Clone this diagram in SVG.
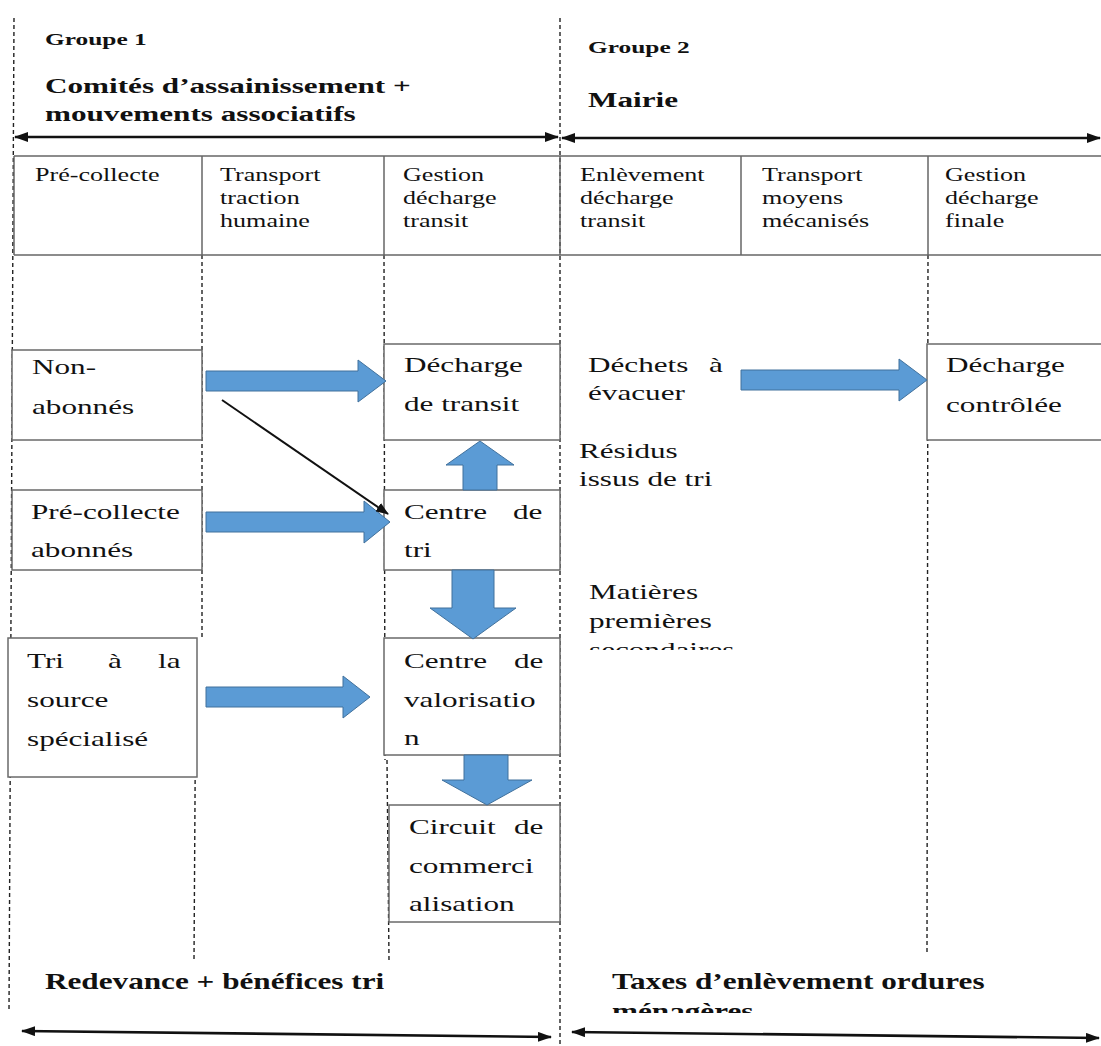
<svg xmlns="http://www.w3.org/2000/svg" width="1101" height="1046" viewBox="0 0 1101 1046">
  <style>
    text { font-family: "Liberation Serif", "Times New Roman", serif; fill: #111; }
    .hd { font-size: 18px; }
    .bx { font-size: 21.5px; }
    .bd { font-size: 21.5px; font-weight: bold; }
    .bs { font-size: 17.5px; font-weight: bold; }
    .bb { font-size: 24px; font-weight: bold; }
    .dash { stroke: #222; stroke-width: 1.4; stroke-dasharray: 4 3; fill: none; }
    .grid { stroke: #666; stroke-width: 1.5; fill: none; }
    .box { stroke: #6a6a6a; stroke-width: 1.5; fill: #fff; }
    .blk { fill: #5b9bd5; stroke: #41719c; stroke-width: 1; }
    .span { stroke: #111; stroke-width: 2.6; fill: none; marker-start: url(#tip); marker-end: url(#tip); }
  </style>
  <defs>
    <marker id="tip" markerUnits="userSpaceOnUse" markerWidth="14" markerHeight="10" refX="13" refY="5" orient="auto-start-reverse">
      <path d="M0,0 L14,5 L0,10 Z" fill="#111"/>
    </marker>
    <marker id="thin" markerUnits="userSpaceOnUse" markerWidth="13" markerHeight="10" refX="12" refY="5" orient="auto">
      <path d="M0,0 L13,5 L0,10 Z" fill="#111"/>
    </marker>
    <clipPath id="cutMat"><rect x="570" y="560" width="200" height="90"/></clipPath>
    <clipPath id="cutMen"><rect x="600" y="940" width="450" height="73"/></clipPath>
  </defs>

  <rect width="1101" height="1046" fill="#fff"/>

  <!-- column guides -->
  <g id="guides">
    <line class="dash" x1="14" y1="18" x2="9" y2="1012"/>
    <line class="dash" x1="560" y1="18" x2="560" y2="1046"/>
    <line class="dash" x1="202" y1="255" x2="202" y2="640"/>
    <line class="dash" x1="196" y1="640" x2="194" y2="960"/>
    <line class="dash" x1="384" y1="255" x2="385" y2="760"/>
    <line class="dash" x1="387" y1="760" x2="389" y2="960"/>
    <line class="dash" x1="928" y1="255" x2="927" y2="952"/>
  </g>

  <!-- group headers -->
  <g id="group1">
    <text class="bs" transform="translate(45 45) scale(1.45 1)">Groupe 1</text>
    <text class="bd" transform="translate(45 93) scale(1.45 1)">Comités d’assainissement +</text>
    <text class="bd" transform="translate(45 121) scale(1.45 1)">mouvements associatifs</text>
  </g>
  <g id="group2">
    <text class="bs" transform="translate(588 53) scale(1.45 1)">Groupe 2</text>
    <text class="bd" transform="translate(588 107) scale(1.45 1)">Mairie</text>
  </g>

  <!-- stage table -->
  <g id="stages">
    <line class="grid" x1="14" y1="156" x2="1101" y2="156"/>
    <line class="grid" x1="14" y1="255" x2="1101" y2="255"/>
    <line class="grid" x1="14" y1="156" x2="14" y2="255"/>
    <line class="grid" x1="202" y1="156" x2="202" y2="255"/>
    <line class="grid" x1="384" y1="156" x2="384" y2="255"/>
    <line class="grid" x1="560" y1="156" x2="560" y2="255"/>
    <line class="grid" x1="741" y1="156" x2="741" y2="255"/>
    <line class="grid" x1="928" y1="156" x2="928" y2="255"/>
    <text class="hd" transform="translate(35 181) scale(1.45 1)">Pré-collecte</text>
    <text class="hd" transform="translate(220 181) scale(1.45 1)">Transport</text>
    <text class="hd" transform="translate(220 204) scale(1.45 1)">traction</text>
    <text class="hd" transform="translate(220 227) scale(1.45 1)">humaine</text>
    <text class="hd" transform="translate(403 181) scale(1.45 1)">Gestion</text>
    <text class="hd" transform="translate(403 204) scale(1.45 1)">décharge</text>
    <text class="hd" transform="translate(403 227) scale(1.45 1)">transit</text>
    <text class="hd" transform="translate(580 181) scale(1.45 1)">Enlèvement</text>
    <text class="hd" transform="translate(580 204) scale(1.45 1)">décharge</text>
    <text class="hd" transform="translate(580 227) scale(1.45 1)">transit</text>
    <text class="hd" transform="translate(762 181) scale(1.45 1)">Transport</text>
    <text class="hd" transform="translate(762 204) scale(1.45 1)">moyens</text>
    <text class="hd" transform="translate(762 227) scale(1.45 1)">mécanisés</text>
    <text class="hd" transform="translate(945 181) scale(1.45 1)">Gestion</text>
    <text class="hd" transform="translate(945 204) scale(1.45 1)">décharge</text>
    <text class="hd" transform="translate(945 227) scale(1.45 1)">finale</text>
  </g>

  <!-- nodes -->
  <g id="non-abonnes">
    <rect class="box" x="12" y="350" width="190" height="90"/>
    <text class="bx" transform="translate(32 374) scale(1.45 1)">Non-</text>
    <text class="bx" transform="translate(32 414) scale(1.45 1)">abonnés</text>
  </g>
  <g id="decharge-transit">
    <rect class="box" x="384" y="344" width="176" height="96"/>
    <text class="bx" transform="translate(404 372) scale(1.45 1)">Décharge</text>
    <text class="bx" transform="translate(404 411) scale(1.45 1)">de transit</text>
  </g>
  <g id="dechets-evacuer">
    <text class="bx" transform="translate(588 372) scale(1.45 1)">Déchets</text>
    <text class="bx" transform="translate(709 372) scale(1.45 1)">à</text>
    <text class="bx" transform="translate(588 400) scale(1.45 1)">évacuer</text>
  </g>
  <g id="decharge-controlee">
    <rect class="box" x="927" y="344" width="180" height="96"/>
    <text class="bx" transform="translate(946 372) scale(1.45 1)">Décharge</text>
    <text class="bx" transform="translate(946 412) scale(1.45 1)">contrôlée</text>
  </g>
  <g id="residus">
    <text class="bx" transform="translate(579 458) scale(1.45 1)">Résidus</text>
    <text class="bx" transform="translate(579 486) scale(1.45 1)">issus de tri</text>
  </g>
  <g id="precollecte-abonnes">
    <rect class="box" x="12" y="490" width="190" height="80"/>
    <text class="bx" transform="translate(31 519) scale(1.45 1)">Pré-collecte</text>
    <text class="bx" transform="translate(31 557) scale(1.45 1)">abonnés</text>
  </g>
  <g id="centre-tri">
    <rect class="box" x="384" y="490" width="176" height="80"/>
    <text class="bx" transform="translate(404 519) scale(1.45 1)">Centre</text>
    <text class="bx" transform="translate(513 519) scale(1.45 1)">de</text>
    <text class="bx" transform="translate(404 557) scale(1.45 1)">tri</text>
  </g>
  <g id="matieres">
    <g clip-path="url(#cutMat)">
      <text class="bx" transform="translate(589 599) scale(1.45 1)">Matières</text>
      <text class="bx" transform="translate(589 628) scale(1.45 1)">premières</text>
      <text class="bx" transform="translate(589 657) scale(1.45 1)">secondaires</text>
    </g>
  </g>
  <g id="tri-source">
    <rect class="box" x="8" y="638" width="189" height="139"/>
    <text class="bx" transform="translate(27 668) scale(1.45 1)">Tri</text>
    <text class="bx" transform="translate(108 668) scale(1.45 1)">à</text>
    <text class="bx" transform="translate(158 668) scale(1.45 1)">la</text>
    <text class="bx" transform="translate(27 707) scale(1.45 1)">source</text>
    <text class="bx" transform="translate(27 746) scale(1.45 1)">spécialisé</text>
  </g>
  <g id="centre-valorisation">
    <rect class="box" x="384" y="638" width="176" height="117"/>
    <text class="bx" transform="translate(404 668) scale(1.45 1)">Centre</text>
    <text class="bx" transform="translate(514 668) scale(1.45 1)">de</text>
    <text class="bx" transform="translate(404 707) scale(1.45 1)">valorisatio</text>
    <text class="bx" transform="translate(404 745) scale(1.45 1)">n</text>
  </g>
  <g id="circuit-commercialisation">
    <rect class="box" x="389" y="805" width="171" height="117"/>
    <text class="bx" transform="translate(409 834) scale(1.45 1)">Circuit</text>
    <text class="bx" transform="translate(514 834) scale(1.45 1)">de</text>
    <text class="bx" transform="translate(409 873) scale(1.45 1)">commerci</text>
    <text class="bx" transform="translate(409 911) scale(1.45 1)">alisation</text>
  </g>

  <!-- financing -->
  <g id="financement1">
    <text class="bb" transform="translate(45 989) scale(1.3 1)">Redevance + bénéfices tri</text>
  </g>
  <g id="financement2">
    <g clip-path="url(#cutMen)">
      <text class="bb" transform="translate(612 989) scale(1.3 1)">Taxes d’enlèvement ordures</text>
      <text class="bb" transform="translate(612 1019) scale(1.3 1)">ménagères</text>
    </g>
  </g>

  <!-- connectors -->
  <g id="connectors">
    <line class="span" x1="15" y1="137" x2="558" y2="137"/>
    <line class="span" x1="562" y1="138" x2="1100" y2="138"/>
    <line class="span" x1="22" y1="1031" x2="551" y2="1037"/>
    <line class="span" x1="572" y1="1032" x2="1099" y2="1038"/>

    <polygon class="blk" points="206,371 358,371 358,360 386,381 358,402 358,391 206,391"/>
    <polygon class="blk" points="206,512 364,512 364,501 390,522 364,543 364,532 206,532"/>
    <polygon class="blk" points="206,687 343,687 343,676 370,697 343,718 343,707 206,707"/>
    <polygon class="blk" points="741,370 899,370 899,359 927,380 899,401 899,390 741,390"/>
    <polygon class="blk" points="463,490 463,465 446,465 480,441 514,465 497,465 497,490"/>
    <polygon class="blk" points="452,570 494,570 494,608 516,608 473,639 430,608 452,608"/>
    <polygon class="blk" points="464,755 508,755 508,780 532,780 487,805 442,780 464,780"/>

    <line x1="222" y1="400" x2="388" y2="514" stroke="#111" stroke-width="2" marker-end="url(#thin)"/>
  </g>
</svg>
